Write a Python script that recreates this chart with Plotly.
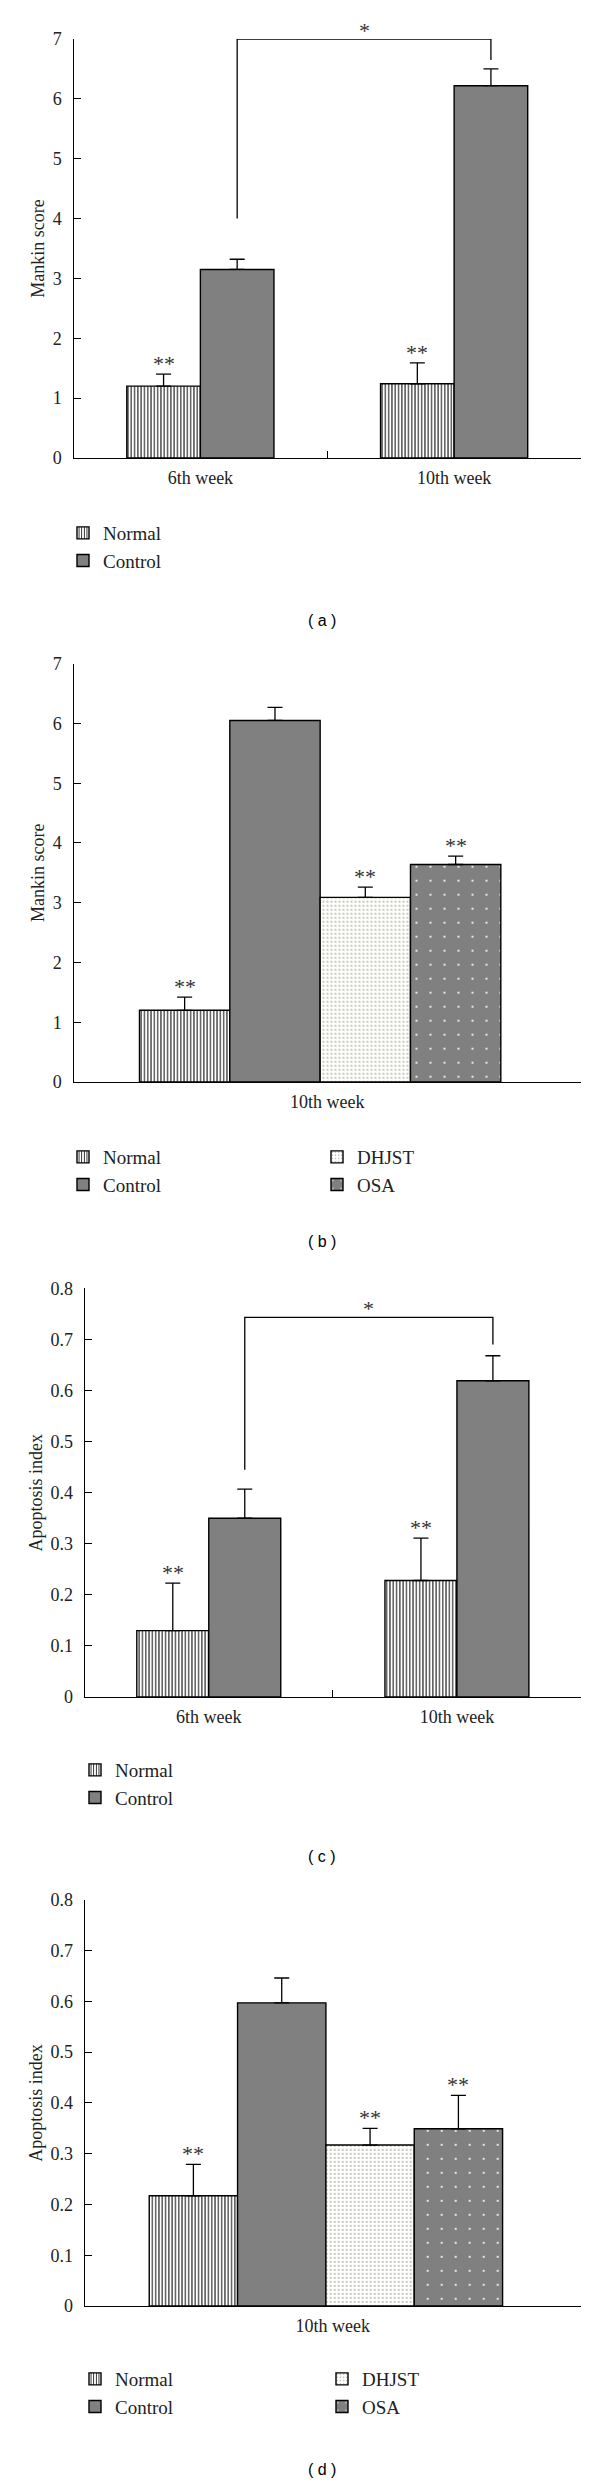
import plotly.graph_objects as go

# ---------------- data ----------------
# Panel (a): Mankin score by week
weeks_a = ["6th week", "10th week"]
mankin_a_normal = [1.20, 1.24]
mankin_a_normal_err = [0.20, 0.35]
mankin_a_control = [3.15, 6.22]
mankin_a_control_err = [0.17, 0.28]
sig_a_normal = ["**", "**"]
bracket_a = [4.0, 7.0, 6.65]        # left foot, top, right foot

# Panel (b): Mankin score at 10th week, four groups
week_b = ["10th week"]
groups = ["Normal", "Control", "DHJST", "OSA"]
mankin_b = [1.20, 6.05, 3.09, 3.64]
mankin_b_err = [0.22, 0.22, 0.17, 0.14]
sig_b = ["**", "", "**", "**"]

# Panel (c): Apoptosis index by week
weeks_c = ["6th week", "10th week"]
apop_c_normal = [0.130, 0.228]
apop_c_normal_err = [0.093, 0.083]
apop_c_control = [0.350, 0.619]
apop_c_control_err = [0.057, 0.049]
sig_c_normal = ["**", "**"]
bracket_c = [0.445, 0.743, 0.690]

# Panel (d): Apoptosis index at 10th week, four groups
week_d = ["10th week"]
apop_d = [0.217, 0.597, 0.317, 0.349]
apop_d_err = [0.062, 0.049, 0.033, 0.066]
sig_d = ["**", "", "**", "**"]

y_ticks_mankin = [0, 1, 2, 3, 4, 5, 6, 7]
y_ticks_apop = [0, 0.1, 0.2, 0.3, 0.4, 0.5, 0.6, 0.7, 0.8]

# ---------------- styles ----------------
PAGE_W, PAGE_H = 600, 2484
BODY = 8                      # default page margin around the figure
W, H = PAGE_W - BODY, PAGE_H - BODY
SERIF = "Liberation Serif"
GRAY = "#808080"
STYLE = {
    "Normal": dict(color="white", line=dict(color="black", width=1.4),
                   pattern=dict(shape="|", fgcolor="black", bgcolor="white", size=3.3, solidity=0.3)),
    "Control": dict(color=GRAY, line=dict(color="black", width=1.4)),
    "DHJST": dict(color="white", line=dict(color="black", width=1.4),
                  pattern=dict(shape=".", fgcolor="#8f8f80", bgcolor="white", size=4, solidity=0.14)),
    "OSA": dict(color=GRAY, line=dict(color="black", width=1.4),
                pattern=dict(shape=".", fgcolor="white", bgcolor=GRAY, size=14, solidity=0.02)),
}


def px_x(v):
    return (v - BODY) / W


def px_y(v):
    return 1 - (v - BODY) / H


fig = go.Figure()
ann = []
shapes = []


def err(vals):
    return dict(type="data", symmetric=False, array=vals, arrayminus=[0] * len(vals),
                color="black", thickness=1.3, width=7.5)


def add_bar(name, x, y, e, xa, ya, width, offset, legend):
    fig.add_trace(go.Bar(name=name, x=x, y=y, error_y=err(e), marker=STYLE[name],
                         width=width, offset=offset, xaxis=xa, yaxis=ya, legend=legend,
                         showlegend=True))


def add_sig(texts, xs, tops, xref, yref):
    for t, xx, yy in zip(texts, xs, tops):
        if t:
            ann.append(dict(text=t, x=xx, y=yy, xref=xref, yref=yref, showarrow=False,
                            yanchor="bottom", yshift=-4,
                            font=dict(family=SERIF, size=22, color="#333")))


def add_bracket(xl, xr, b, xref, yref):
    shapes.append(dict(type="path", xref=xref, yref=yref,
                       path=f"M {xl},{b[0]} L {xl},{b[1]} L {xr},{b[1]} L {xr},{b[2]}",
                       line=dict(color="black", width=1.3)))
    ann.append(dict(text="*", x=(xl + xr) / 2, y=b[1], xref=xref, yref=yref, showarrow=False,
                    yanchor="bottom", yshift=-6, font=dict(family=SERIF, size=22, color="#333")))


# two-group panels
W2 = 0.29
for (xa, ya, cats, nv, ne, cv, ce, sig, br, leg) in [
    ("x", "y", weeks_a, mankin_a_normal, mankin_a_normal_err, mankin_a_control, mankin_a_control_err,
     sig_a_normal, bracket_a, "legend"),
    ("x3", "y3", weeks_c, apop_c_normal, apop_c_normal_err, apop_c_control, apop_c_control_err,
     sig_c_normal, bracket_c, "legend4"),
]:
    add_bar("Normal", cats, nv, ne, xa, ya, W2, -W2, leg)
    add_bar("Control", cats, cv, ce, xa, ya, W2, 0.0, leg)
    idx = list(range(len(cats)))
    add_sig(sig, [i - W2 / 2 for i in idx], [v + e for v, e in zip(nv, ne)], xa, ya)
    add_bracket(idx[0] + W2 / 2, idx[1] + W2 / 2, br, xa, ya)

# four-group panels
W4 = 0.178
START4 = -0.37
for (xa, ya, cats, vals, errs, sig, legs) in [
    ("x2", "y2", week_b, mankin_b, mankin_b_err, sig_b, ("legend2", "legend3")),
    ("x4", "y4", week_d, apop_d, apop_d_err, sig_d, ("legend5", "legend6")),
]:
    for i, g in enumerate(groups):
        add_bar(g, cats, [vals[i]], [errs[i]], xa, ya, W4, START4 + i * W4, legs[0] if i < 2 else legs[1])
    add_sig(sig, [START4 + (i + 0.5) * W4 for i in range(4)],
            [v + e for v, e in zip(vals, errs)], xa, ya)

# ---------------- axes ----------------
axis_common = dict(showline=True, linecolor="black", linewidth=1.3, ticks="inside", ticklen=7,
                   tickcolor="black", tickwidth=1.3, showgrid=False, zeroline=False,
                   automargin=False,
                   tickfont=dict(family=SERIF, size=18, color="#222"))

panels = [
    ("xaxis", "yaxis", "y", "x", (73.5, 581), (39, 458), 2, y_ticks_mankin, "Mankin score"),
    ("xaxis2", "yaxis2", "y2", "x2", (73.5, 581), (663.7, 1082), 1, y_ticks_mankin, "Mankin score"),
    ("xaxis3", "yaxis3", "y3", "x3", (84.7, 581), (1288.3, 1697), 2, y_ticks_apop, "Apoptosis index"),
    ("xaxis4", "yaxis4", "y4", "x4", (84.7, 581), (1899.8, 2306), 1, y_ticks_apop, "Apoptosis index"),
]
layout_axes = {}
for xk, yk, yanc, xanc, xr, yr, ncat, yt, ytitle in panels:
    layout_axes[xk] = dict(axis_common, domain=[px_x(xr[0]), px_x(xr[1])], anchor=yanc,
                           type="category", range=[-0.5, ncat - 0.5], tickson="boundaries",
                           ticklabelstandoff=3, fixedrange=True)
    layout_axes[yk] = dict(axis_common, domain=[px_y(yr[1]), px_y(yr[0])], anchor=xanc,
                           range=[0, yt[-1]], tickvals=yt, ticklabelstandoff=7,
                           title=dict(text=ytitle, font=dict(family=SERIF, size=18, color="#222"),
                                      standoff=3),
                           fixedrange=True)

legend_common = dict(orientation="v", bgcolor="rgba(0,0,0,0)", xanchor="left", yanchor="top",
                     font=dict(family=SERIF, size=19, color="#222"), tracegroupgap=0,
                     itemclick=False, itemdoubleclick=False)
legends = {
    "legend": (63, 514),
    "legend2": (63, 1138),
    "legend3": (317, 1138),
    "legend4": (75, 1751),
    "legend5": (75, 2360),
    "legend6": (322, 2360),
}
for k, (lx, ly) in legends.items():
    layout_axes[k] = dict(legend_common, x=px_x(lx), y=px_y(ly))

captions = [("( a )", 322, 620), ("( b )", 322, 1242), ("( c )", 322, 1856), ("( d )", 322, 2469)]
for t, cx, cy in captions:
    ann.append(dict(text=t, x=px_x(cx), y=px_y(cy), xref="paper", yref="paper", showarrow=False,
                    xanchor="center", yanchor="middle",
                    font=dict(family="Liberation Sans", size=16, color="black")))

fig.update_layout(
    template="none",
    width=W, height=H, margin=dict(l=0, r=0, t=0, b=0, pad=0), autosize=False,
    paper_bgcolor="white", plot_bgcolor="white",
    barmode="group", showlegend=True,
    annotations=ann, shapes=shapes,
    **layout_axes,
)

fig.write_html("out.html")
